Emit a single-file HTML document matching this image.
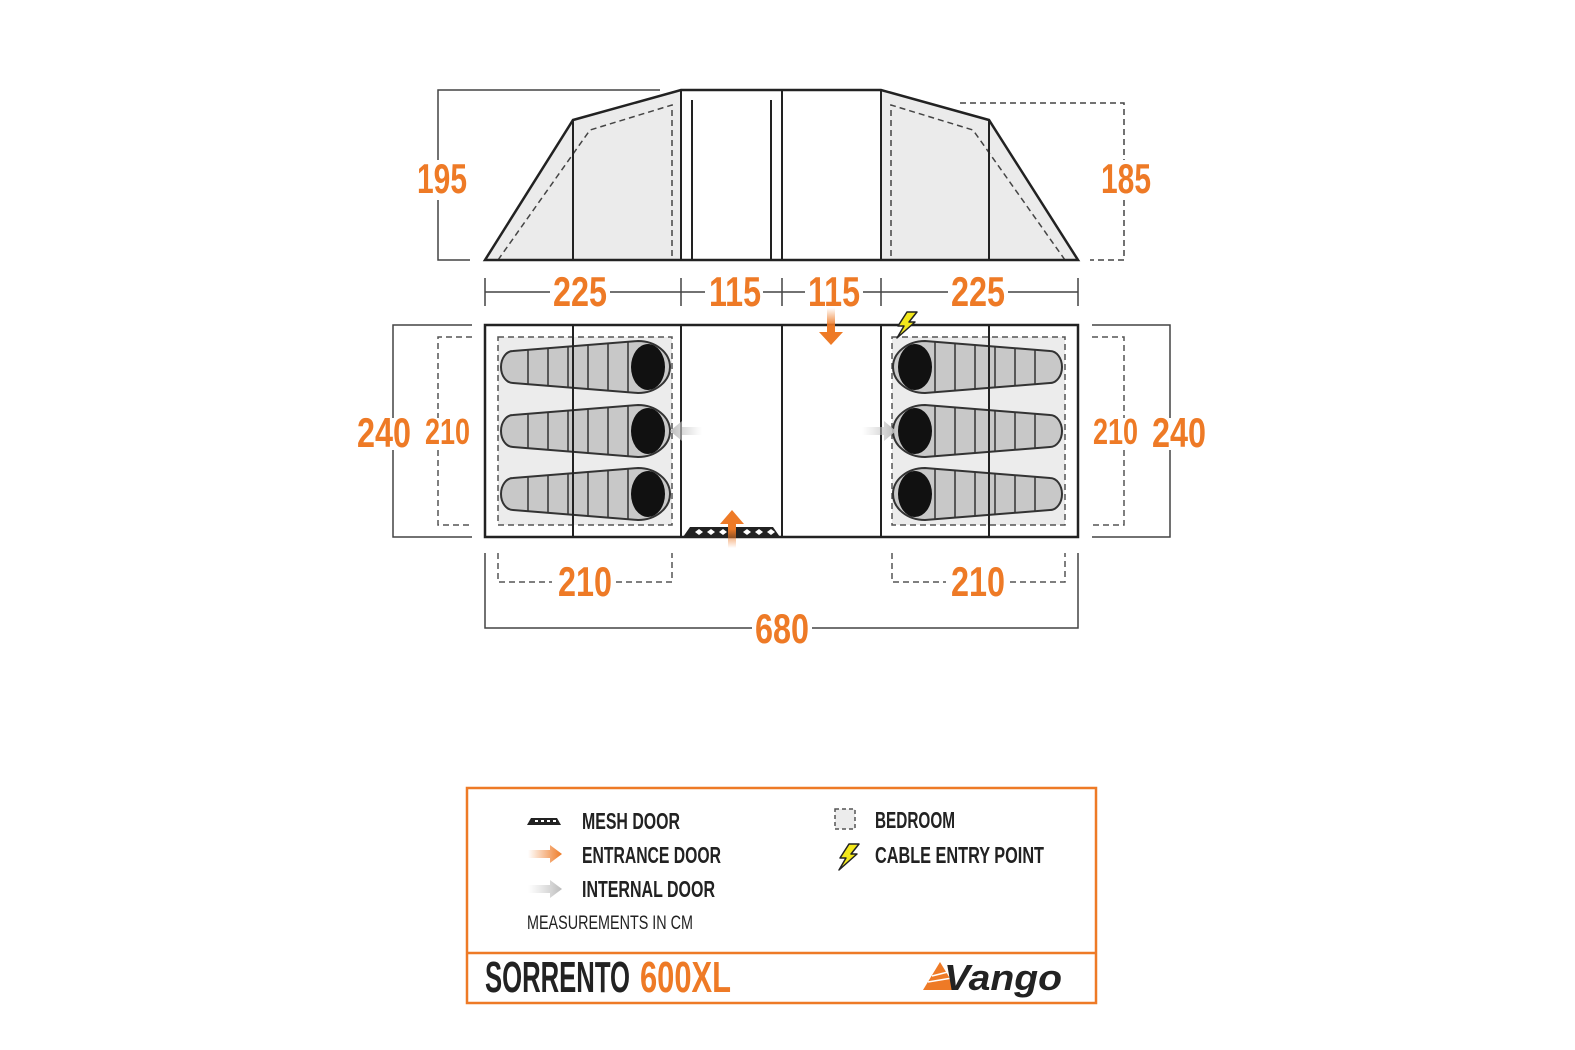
<!DOCTYPE html>
<html><head><meta charset="utf-8"><style>
html,body{margin:0;padding:0;background:#fff;overflow:hidden;width:1575px;height:1050px;}
svg{display:block}
.o{font-family:"Liberation Sans",sans-serif;font-weight:bold;fill:#ee7a26;}
.k{font-family:"Liberation Sans",sans-serif;font-weight:bold;fill:#222;}
</style></head><body>
<svg width="1575" height="1050" viewBox="0 0 1575 1050" xmlns="http://www.w3.org/2000/svg">
<defs>
<g id="bag">
<path d="M-135,-16 L-10,-26 A32,26 0 0 1 -10,26 L-135,16 A12,16 0 0 1 -135,-16 Z" fill="#c8c8c8" stroke="#333" stroke-width="2"/>
<g stroke="#333" stroke-width="1.5">
<line x1="-120" y1="-17" x2="-120" y2="17"/><line x1="-100" y1="-18.6" x2="-100" y2="18.6"/>
<line x1="-80" y1="-20.2" x2="-80" y2="20.2"/><line x1="-60" y1="-21.8" x2="-60" y2="21.8"/>
<line x1="-40" y1="-23.4" x2="-40" y2="23.4"/><line x1="-20" y1="-25" x2="-20" y2="25"/>
</g>
<ellipse cx="0" cy="0" rx="17" ry="23" fill="#111"/>
</g>
<linearGradient id="go" x1="0" y1="0" x2="1" y2="0"><stop offset="0" stop-color="#ee7a26" stop-opacity="0"/><stop offset="1" stop-color="#ee7a26"/></linearGradient>
<linearGradient id="gg" x1="0" y1="0" x2="1" y2="0"><stop offset="0" stop-color="#ccc" stop-opacity="0"/><stop offset="1" stop-color="#bbb"/></linearGradient>
<linearGradient id="ggL" x1="1" y1="0" x2="0" y2="0"><stop offset="0" stop-color="#ccc" stop-opacity="0"/><stop offset="1" stop-color="#bbb"/></linearGradient>
<linearGradient id="gov" x1="0" y1="1" x2="0" y2="0"><stop offset="0" stop-color="#ee7a26" stop-opacity="0"/><stop offset="0.5" stop-color="#ee7a26"/></linearGradient>
<linearGradient id="god" x1="0" y1="0" x2="0" y2="1"><stop offset="0" stop-color="#ee7a26" stop-opacity="0"/><stop offset="0.5" stop-color="#ee7a26"/></linearGradient>
<g id="bolt"><path d="M4,-12 L14,-12 L6,-2 L12,-2 L-6,14 L1,2 L-5,2 Z" fill="#f3e81c" stroke="#222" stroke-width="1.5" stroke-linejoin="round"/></g>
</defs>

<g stroke="#222" fill="none">
<path d="M573,120 L681,90 L681,260 L485,260 Z" fill="#ebebeb" stroke="none"/>
<path d="M881,90 L989,120 L1078,260 L881,260 Z" fill="#ebebeb" stroke="none"/>
<path d="M498,260 L590,130 L672,105 L672,260" stroke="#444" stroke-width="1.5" stroke-dasharray="6,4"/>
<path d="M1065,260 L973,130 L891,105 L891,260" stroke="#444" stroke-width="1.5" stroke-dasharray="6,4"/>
<path d="M485,260 L573,120 L681,90 L881,90 L989,120 L1078,260 Z" stroke-width="2.5"/>
<path d="M573,120 V260 M681,90 V260 M782,90 V260 M881,90 V260 M989,120 V260 M692,100 V260 M771,100 V260" stroke-width="2"/>
<path d="M660,90 H438 V160 M438,200 V260 H470" stroke="#444" stroke-width="1.5"/>
<path d="M960,103 H1124 V160 M1124,200 V260 H1090" stroke="#444" stroke-width="1.5" stroke-dasharray="6,4"/>
<path d="M485,278 V306 M681,278 V306 M782,278 V306 M881,278 V306 M1078,278 V306" stroke="#444" stroke-width="1.5"/>
<path d="M485,292 H550 M610,292 H681 M681,292 H705 M763,292 H782 M782,292 H805 M863,292 H881 M881,292 H948 M1008,292 H1078" stroke="#444" stroke-width="1.5"/>
</g>
<g font-size="42">
<text class="o" x="417" y="193" textLength="50" lengthAdjust="spacingAndGlyphs">195</text>
<text class="o" x="1101" y="193" textLength="50" lengthAdjust="spacingAndGlyphs">185</text>
<text class="o" x="553" y="306" textLength="54" lengthAdjust="spacingAndGlyphs">225</text>
<text class="o" x="709" y="306" textLength="52" lengthAdjust="spacingAndGlyphs">115</text>
<text class="o" x="808" y="306" textLength="52" lengthAdjust="spacingAndGlyphs">115</text>
<text class="o" x="951" y="306" textLength="54" lengthAdjust="spacingAndGlyphs">225</text>
</g>

<rect x="498" y="337" width="174" height="188" fill="#ececec" stroke="#555" stroke-width="1.5" stroke-dasharray="6,4"/>
<rect x="892" y="337" width="173" height="188" fill="#ececec" stroke="#555" stroke-width="1.5" stroke-dasharray="6,4"/>
<use href="#bag" x="648" y="367"/><use href="#bag" x="648" y="431"/><use href="#bag" x="648" y="494"/>
<use href="#bag" transform="translate(915,367) scale(-1,1)"/><use href="#bag" transform="translate(915,431) scale(-1,1)"/><use href="#bag" transform="translate(915,494) scale(-1,1)"/>
<g fill="none" stroke="#222">
<rect x="485" y="325" width="593" height="212" stroke-width="2.5"/>
<path d="M573,325 V537 M681,325 V537 M782,325 V537 M881,325 V537 M989,325 V537" stroke-width="2"/>
<path d="M472,325 H393 V418 M393,450 V537 H472" stroke="#444" stroke-width="1.5"/>
<path d="M472,337 H438 V418 M438,450 V525 H472" stroke="#555" stroke-width="1.5" stroke-dasharray="6,4"/>
<path d="M1092,325 H1170 V418 M1170,450 V537 H1092" stroke="#444" stroke-width="1.5"/>
<path d="M1092,337 H1124 V418 M1124,450 V525 H1092" stroke="#555" stroke-width="1.5" stroke-dasharray="6,4"/>
<path d="M498,553 V582 H552 M616,582 H672 V553" stroke="#555" stroke-width="1.5" stroke-dasharray="6,4"/>
<path d="M892,553 V582 H946 M1010,582 H1065 V553" stroke="#555" stroke-width="1.5" stroke-dasharray="6,4"/>
<path d="M485,553 V628 H752 M812,628 H1078 V553" stroke="#444" stroke-width="1.5"/>
</g>
<path d="M683,537 L690,527 L773,527 L780,537 Z" fill="#222"/>
<g fill="#fff">
<path d="M695,532 l4,-3 l4,3 l-4,3z"/><path d="M707,532 l4,-3 l4,3 l-4,3z"/><path d="M719,532 l4,-3 l4,3 l-4,3z"/><path d="M743,532 l4,-3 l4,3 l-4,3z"/><path d="M755,532 l4,-3 l4,3 l-4,3z"/><path d="M767,532 l4,-3 l4,3 l-4,3z"/>
</g>
<path d="M728,548 V524 H720 L732,510 L744,524 H736 V548 Z" fill="url(#gov)"/>
<path d="M827,308 V332 H819 L831,345 L843,332 H835 V308 Z" fill="url(#god)"/>
<path d="M702,427 H682 V421 L670,431 L682,441 V435 H702 Z" fill="url(#ggL)"/>
<path d="M862,427 H884 V421 L896,431 L884,441 V435 H862 Z" fill="url(#gg)"/>
<use href="#bolt" x="903" y="324"/>
<text class="o" x="357" y="447" font-size="42" textLength="54" lengthAdjust="spacingAndGlyphs">240</text>
<text class="o" x="425" y="444" font-size="36" textLength="45" lengthAdjust="spacingAndGlyphs">210</text>
<text class="o" x="1093" y="444" font-size="36" textLength="45" lengthAdjust="spacingAndGlyphs">210</text>
<text class="o" x="1152" y="447" font-size="42" textLength="54" lengthAdjust="spacingAndGlyphs">240</text>
<text class="o" x="558" y="596" font-size="42" textLength="54" lengthAdjust="spacingAndGlyphs">210</text>
<text class="o" x="951" y="596" font-size="42" textLength="54" lengthAdjust="spacingAndGlyphs">210</text>
<text class="o" x="755" y="643" font-size="42" textLength="54" lengthAdjust="spacingAndGlyphs">680</text>

<rect x="467" y="788" width="629" height="215" fill="none" stroke="#ee7a26" stroke-width="2.5"/>
<line x1="467" y1="953" x2="1096" y2="953" stroke="#ee7a26" stroke-width="2.5"/>
<path d="M527,825 L531,818 L557,818 L561,825 Z" fill="#222"/>
<g fill="#fff"><rect x="535" y="820" width="3" height="2"/><rect x="541" y="820" width="3" height="2"/><rect x="547" y="820" width="3" height="2"/><rect x="553" y="820" width="3" height="2"/></g>
<path d="M528,850 H550 V845 L562,854 L550,863 V858 H528 Z" fill="url(#go)"/>
<path d="M528,885 H550 V880 L562,889 L550,898 V893 H528 Z" fill="url(#gg)"/>
<rect x="835" y="809" width="20" height="20" fill="#ececec" stroke="#555" stroke-width="1.5" stroke-dasharray="4,3"/>
<use href="#bolt" x="845" y="856"/>
<g font-size="23">
<text class="k" x="582" y="829" textLength="98" lengthAdjust="spacingAndGlyphs">MESH DOOR</text>
<text class="k" x="582" y="863" textLength="139" lengthAdjust="spacingAndGlyphs">ENTRANCE DOOR</text>
<text class="k" x="582" y="897" textLength="133" lengthAdjust="spacingAndGlyphs">INTERNAL DOOR</text>
<text class="k" x="875" y="828" textLength="80" lengthAdjust="spacingAndGlyphs">BEDROOM</text>
<text class="k" x="875" y="863" textLength="169" lengthAdjust="spacingAndGlyphs">CABLE ENTRY POINT</text>
</g>
<text x="527" y="929" font-family="'Liberation Sans',sans-serif" font-size="19" fill="#222" textLength="166" lengthAdjust="spacingAndGlyphs">MEASUREMENTS IN CM</text>
<text class="k" x="485" y="992" font-size="44" textLength="145" lengthAdjust="spacingAndGlyphs">SORRENTO</text>
<text class="o" x="640" y="992" font-size="44" textLength="91" lengthAdjust="spacingAndGlyphs">600XL</text>
<path d="M923,990 L940,962 L957,990 Z" fill="#ee7a26"/>
<path d="M928,982 L952,978 M932,976 L948,972" stroke="#fff" stroke-width="1.5"/>
<text x="944" y="990" font-family="'Liberation Sans',sans-serif" font-weight="bold" font-style="italic" font-size="36" fill="#222" textLength="118" lengthAdjust="spacingAndGlyphs">Vango</text>
</svg>
</body></html>
